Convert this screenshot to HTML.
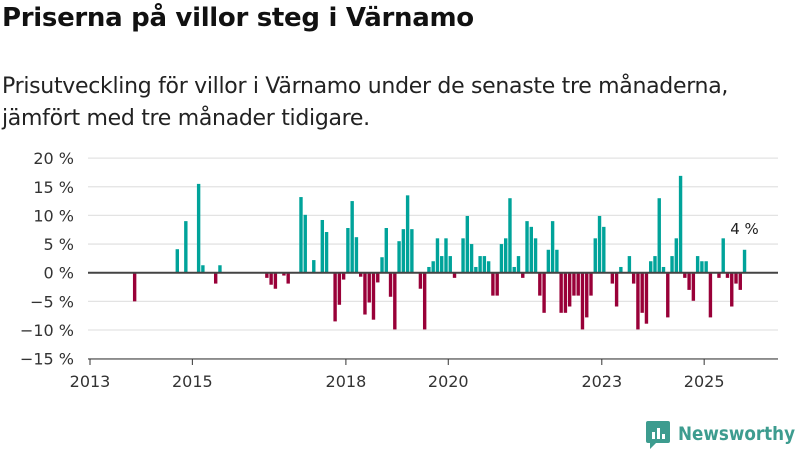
<!DOCTYPE html>
<html><head><meta charset="utf-8">
<style>
body{margin:0;background:#fff;font-family:"Liberation Sans","DejaVu Sans",sans-serif;}
#wrap{position:relative;width:800px;height:450px;overflow:hidden;}
h1{position:absolute;left:2px;top:3px;margin:0;font-size:26px;font-weight:bold;color:#111;font-family:"DejaVu Sans","Liberation Sans",sans-serif;letter-spacing:-0.3px}
.sub{position:absolute;left:2px;top:71px;margin:0;font-size:22px;line-height:32px;color:#222;font-family:"DejaVu Sans","Liberation Sans",sans-serif;letter-spacing:-0.3px}
svg{position:absolute;left:0;top:0}
</style></head><body>
<div id="wrap">
<h1>Priserna på villor steg i Värnamo</h1>
<p class="sub">Prisutveckling för villor i Värnamo under de senaste tre månaderna,<br>jämfört med tre månader tidigare.</p>
<svg id="chart" width="800" height="450"></svg>
</div>
<script>
const yTicks=[20,15,10,5,0,-5,-10,-15];
const yTickLabels=["20 %","15 %","10 %","5 %","0 %","−5 %","−10 %","−15 %"];
const xTickYears=[2013,2015,2018,2020,2023,2025];
const monthIndex=[10,20,22,25,26,29,30,41,42,43,45,46,49,50,52,54,55,57,58,59,60,61,62,63,64,65,66,67,68,69,70,71,72,73,74,75,77,78,79,80,81,82,83,84,85,87,88,89,90,91,92,93,94,95,96,97,98,99,100,101,102,103,104,105,106,107,108,109,110,111,112,113,114,115,116,117,118,119,120,122,123,124,126,127,128,129,130,131,132,133,134,135,136,137,138,139,140,141,142,143,144,145,147,148,149,150,151,152,153];
const values=[-5,4.1,9,15.5,1.3,-1.9,1.3,-0.9,-2.1,-2.8,-0.5,-1.9,13.2,10.1,2.2,9.2,7.1,-8.5,-5.6,-1.2,7.8,12.5,6.2,-0.7,-7.3,-5.2,-8.2,-1.7,2.7,7.8,-4.2,-9.9,5.5,7.6,13.5,7.6,-2.8,-9.9,1,2,6,2.9,6,2.9,-0.9,6,9.9,5,1,2.9,2.9,2,-4,-4,5,6,13,1,2.9,-0.9,9,8,6,-4,-7,4,9,4,-7,-7,-5.9,-4,-4,-9.9,-7.8,-4,6,9.9,8,-1.9,-5.9,1,2.9,-1.9,-9.9,-7,-8.9,2,2.9,13,1,-7.8,2.9,6,16.9,-0.9,-3,-4.9,2.9,2,2,-7.8,-0.9,6,-0.9,-5.9,-1.9,-3,4];
const annotationText="4 %";
const NS="http://www.w3.org/2000/svg";
const svg=document.getElementById('chart');
const x0=90, pxMonth=4.265;
function xScale(m){return x0+m*pxMonth;}
function yScale(v){return 272.7-v*5.73;}
function mk(t,a){const e=document.createElementNS(NS,t);for(const k in a)e.setAttribute(k,a[k]);svg.appendChild(e);return e;}
yTicks.forEach((v,i)=>{
  if(v!==0){const g=mk('line',{x1:88,x2:778,y1:yScale(v),y2:yScale(v),stroke:'#e3e3e3','stroke-width':1.3});
  
  }
  const t=mk('text',{x:74,y:yScale(v)+6,'text-anchor':'end','font-size':16,fill:'#333','font-family':'DejaVu Sans, Liberation Sans, sans-serif'});
  t.textContent=yTickLabels[i];
  
  
});
monthIndex.forEach((m,i)=>{
  const v=values[i];
  const y1=yScale(Math.max(v,0)), y2=yScale(Math.min(v,0));
  const r=mk('rect',{x:xScale(m)+0.3,y:y1,width:3.4,height:Math.max(y2-y1,0.5),fill:v>=0?'#00a39a':'#990038'});
  
  
});
const z=mk('line',{x1:88,x2:778,y1:yScale(0),y2:yScale(0),stroke:'#444','stroke-width':2});


const ax=mk('line',{x1:88,x2:778,y1:359,y2:359,stroke:'#333','stroke-width':1});


xTickYears.forEach(yr=>{
  const xx=xScale((yr-2013)*12);
  const tk=mk('line',{x1:xx,x2:xx,y1:359,y2:365,stroke:'#333','stroke-width':1});
  
  
  const t=mk('text',{x:xx,y:387,'text-anchor':'middle','font-size':16,fill:'#333','font-family':'DejaVu Sans, Liberation Sans, sans-serif'});
  t.textContent=yr;
  
  
});
const lm=monthIndex[monthIndex.length-1];
const an=mk('text',{x:xScale(lm)+2,y:yScale(values[values.length-1])-16,'text-anchor':'middle','font-size':15,fill:'#222','font-family':'DejaVu Sans, Liberation Sans, sans-serif'});
an.textContent=annotationText;


const lg=mk('g',{});


const ic=document.createElementNS(NS,'path');
ic.setAttribute('d','M648 421 h20 a2 2 0 0 1 2 2 v18 a2 2 0 0 1 -2 2 h-12 l-6 6 v-6 h-2 a2 2 0 0 1 -2 -2 v-18 a2 2 0 0 1 2 -2z');
ic.setAttribute('fill','#3d9c8f');
lg.appendChild(ic);
[[652,432,3,7],[657,428,3,11],[662,434,3,5]].forEach(b=>{const r=document.createElementNS(NS,'rect');r.setAttribute('x',b[0]);r.setAttribute('y',b[1]);r.setAttribute('width',b[2]);r.setAttribute('height',b[3]);r.setAttribute('fill','#fff');lg.appendChild(r);});
svg.appendChild(lg);
const lt=mk('text',{x:678,y:440,'font-size':19,'font-weight':'bold',fill:'#3d9c8f','font-family':'DejaVu Sans, Liberation Sans, sans-serif','textLength':117,'lengthAdjust':'spacingAndGlyphs'});
lt.textContent='Newsworthy';


</script>
</body></html>
